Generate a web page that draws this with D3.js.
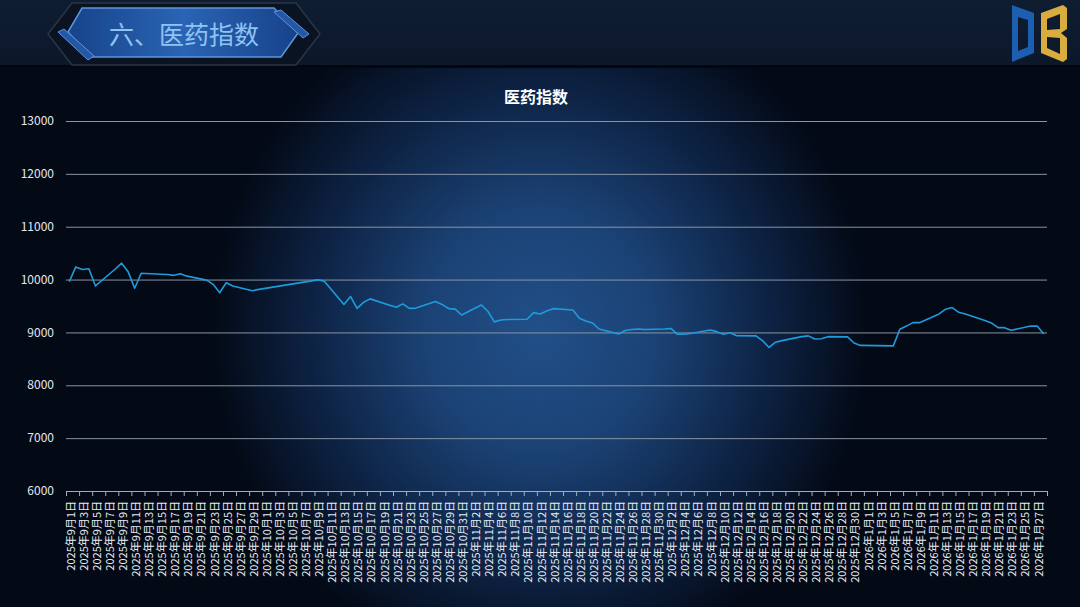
<!DOCTYPE html>
<html><head><meta charset="utf-8">
<script src="https://cdn.jsdelivr.net/npm/d3@7"></script>
<style>
html,body{margin:0;padding:0;background:#030915;}
svg{display:block;font-family:"Noto Sans CJK SC","Noto Sans",sans-serif;}
</style></head>
<body>
<svg id="chart" width="1080" height="607"></svg>
<script>
// ---- data ----
const pageTitle = "六、医药指数";
const chartTitle = "医药指数";
const axisStart = "2025-09-01";
const axisEnd = "2026-01-28";
const yTicks = [6000, 7000, 8000, 9000, 10000, 11000, 12000, 13000];
const dates = [
 "2025-09-01","2025-09-02","2025-09-03","2025-09-04","2025-09-05",
 "2025-09-08","2025-09-09","2025-09-10","2025-09-11","2025-09-12",
 "2025-09-15","2025-09-16","2025-09-17","2025-09-18","2025-09-19",
 "2025-09-22","2025-09-23","2025-09-24","2025-09-25","2025-09-26",
 "2025-09-29","2025-09-30",
 "2025-10-09","2025-10-10",
 "2025-10-13","2025-10-14","2025-10-15","2025-10-16","2025-10-17",
 "2025-10-20","2025-10-21","2025-10-22","2025-10-23","2025-10-24",
 "2025-10-27","2025-10-28","2025-10-29","2025-10-30","2025-10-31",
 "2025-11-03","2025-11-04","2025-11-05","2025-11-06","2025-11-07",
 "2025-11-10","2025-11-11","2025-11-12","2025-11-13","2025-11-14",
 "2025-11-17","2025-11-18","2025-11-19","2025-11-20","2025-11-21",
 "2025-11-24","2025-11-25","2025-11-26","2025-11-27","2025-11-28",
 "2025-12-01","2025-12-02","2025-12-03","2025-12-04","2025-12-05",
 "2025-12-08","2025-12-09","2025-12-10","2025-12-11","2025-12-12",
 "2025-12-15","2025-12-16","2025-12-17","2025-12-18","2025-12-19",
 "2025-12-22","2025-12-23","2025-12-24","2025-12-25","2025-12-26",
 "2025-12-29","2025-12-30","2025-12-31",
 "2026-01-05","2026-01-06","2026-01-07","2026-01-08","2026-01-09",
 "2026-01-12","2026-01-13","2026-01-14","2026-01-15","2026-01-16",
 "2026-01-19","2026-01-20","2026-01-21","2026-01-22","2026-01-23",
 "2026-01-26","2026-01-27","2026-01-28"
];
const values = [
 9960,10240,10190,10205,9880,
 10195,10310,10150,9835,10120,
 10100,10095,10080,10110,10065,
 9990,9910,9750,9940,9880,
 9790,9815,
 9995,9970,
 9530,9680,9455,9570,9635,
 9515,9475,9540,9455,9460,
 9585,9530,9450,9440,9330,
 9520,9400,9200,9235,9245,
 9250,9375,9350,9405,9450,
 9425,9270,9215,9180,9065,
 8970,9035,9055,9065,9055,
 9065,9075,8965,8965,8980,
 9045,9015,8965,8995,8940,
 8935,8845,8715,8815,8845,
 8920,8935,8875,8880,8920,
 8915,8800,8755,
 8745,9060,9120,9185,9185,
 9350,9440,9470,9380,9350,
 9225,9180,9090,9090,9040,
 9120,9120,8970
];

// ---- layout ----
const W = 1080, H = 607;
const M = {left: 66, right: 1047, top: 121, bottom: 491};
const svg = d3.select("#chart");
const defs = svg.append("defs");
const parse = d3.timeParse("%Y-%m-%d");
const fmtKey = d3.timeFormat("%Y-%m-%d");

// background
const rg = defs.append("radialGradient").attr("id","glow")
  .attr("gradientUnits","userSpaceOnUse").attr("cx",540).attr("cy",330).attr("r",330)
  .attr("gradientTransform","translate(540,330) scale(1,1.05) translate(-540,-330)");
rg.append("stop").attr("offset","0").attr("stop-color","#214f88");
rg.append("stop").attr("offset","0.35").attr("stop-color","#1b4275");
rg.append("stop").attr("offset","0.7").attr("stop-color","#0d2243");
rg.append("stop").attr("offset","1").attr("stop-color","#030915");
svg.append("rect").attr("width",W).attr("height",H).attr("fill","#030915");
svg.append("rect").attr("y",66).attr("width",W).attr("height",H-66).attr("fill","url(#glow)");

// header bar
const hg = defs.append("linearGradient").attr("id","hdr").attr("x1",0).attr("y1",0).attr("x2",0).attr("y2",1);
hg.append("stop").attr("offset","0").attr("stop-color","#0f1d31");
hg.append("stop").attr("offset","1").attr("stop-color","#0c182a");
svg.append("rect").attr("width",W).attr("height",66).attr("fill","url(#hdr)");
svg.append("rect").attr("y",65).attr("width",W).attr("height",3).attr("fill","#04070e");

// title badge
const bg = defs.append("linearGradient").attr("id","badge").attr("x1",0).attr("y1",0).attr("x2",1).attr("y2",0);
bg.append("stop").attr("offset","0").attr("stop-color","#17438a");
bg.append("stop").attr("offset","0.5").attr("stop-color","#2a64b4");
bg.append("stop").attr("offset","1").attr("stop-color","#17428a");
const badge = svg.append("g");
badge.append("path").attr("d","M72,3 L296,3 L320,34 L296,65 L72,65 L48,34 Z")
  .attr("fill","#0a1322").attr("stroke","#2a3648").attr("stroke-width",1.5);
badge.append("path").attr("d","M82,8 L274,8 L298,33 L281,57 L91,57 L68,32 Z")
  .attr("fill","url(#badge)").attr("stroke","#5d95dc").attr("stroke-width",1.5);
badge.append("path").attr("d","M58,32 L64,29 L94,56 L88,60 Z")
  .attr("fill","#2458a6").attr("stroke","#5d95dc").attr("stroke-width",1);
badge.append("path").attr("d","M274,12 L281,10 L309,34 L303,38 Z")
  .attr("fill","#2458a6").attr("stroke","#5d95dc").attr("stroke-width",1);
badge.append("text").attr("x",184).attr("y",35).attr("dy","0.35em")
  .attr("text-anchor","middle").attr("fill","#8fc3f3").attr("font-size",25)
  .text(pageTitle);

// logo
svg.append("path").attr("fill-rule","evenodd").attr("fill","#1c5eb0")
  .attr("d","M1012,5 L1034,13 L1034,53 L1012,62 Z M1018,17 L1028,20 L1028,47 L1018,51 Z");
svg.append("path").attr("fill-rule","evenodd").attr("fill","#d8ac3e")
  .attr("d","M1041,13 L1063,5 L1067,8 L1067,29 L1061,33 L1067,38 L1067,59 L1063,62 L1041,53 Z M1047,19 L1060,14 L1060,29 L1047,30 Z M1047,37 L1060,38 L1060,54 L1047,48 Z");

// chart title
svg.append("text").attr("x",536).attr("y",97).attr("dy","0.35em").attr("text-anchor","middle")
  .attr("fill","#ffffff").attr("font-size",16).attr("font-weight","bold").text(chartTitle);

// scales
const days = d3.timeDay.range(parse(axisStart), d3.timeDay.offset(parse(axisEnd),1)).map(fmtKey);
const x = d3.scaleBand().domain(days).range([M.left, M.right]).paddingInner(0).paddingOuter(0);
const y = d3.scaleLinear().domain([6000,13000]).range([M.bottom, M.top]);

// grid
svg.append("g").selectAll("line").data(yTicks.filter(d=>d>6000)).join("line")
  .attr("x1",M.left).attr("x2",M.right).attr("y1",d=>y(d)+0.5).attr("y2",d=>y(d)+0.5)
  .attr("stroke","#8894a4").attr("stroke-width",1);

// y labels
svg.append("g").selectAll("text").data(yTicks).join("text")
  .attr("x",54).attr("y",d=>y(d)).attr("dy","0.35em").attr("text-anchor","end")
  .attr("fill","#e3e8ef").attr("font-size",12).text(d=>d);

// x axis
const labelDays = days.filter((d,i)=>i%2===0);
const xAxis = svg.append("g").attr("transform",`translate(0,${M.bottom})`);
xAxis.append("line").attr("x1",M.left).attr("x2",M.right).attr("y1",0.5).attr("y2",0.5)
  .attr("stroke","#a3acb8");
const tickPos = labelDays.map(d=>x(d)).concat([M.right]);
xAxis.selectAll("line.t").data(tickPos).join("line").attr("class","t")
  .attr("x1",d=>d+0.5).attr("x2",d=>d+0.5).attr("y1",0).attr("y2",5).attr("stroke","#a3acb8");
const fmtLabel = d=>{const dt=parse(d);return `${dt.getFullYear()}年${dt.getMonth()+1}月${dt.getDate()}日`;};
xAxis.selectAll("text").data(labelDays).join("text")
  .attr("transform",d=>`translate(${x(d)+x.bandwidth()/2+1.5},10) rotate(-90)`)
  .attr("dy","0.35em").attr("text-anchor","end").attr("fill","#e6ebf2").attr("font-size",11)
  .text(fmtLabel);

// line
const pts = dates.map((d,i)=>({d, v: values[i]}));
const line = d3.line().x(p=>x(p.d)+x.bandwidth()/2).y(p=>y(p.v));
svg.append("path").datum(pts).attr("d",line).attr("fill","none")
  .attr("stroke","#1e9bdc").attr("stroke-width",1.6).attr("stroke-linejoin","round");
</script>
</body></html>
